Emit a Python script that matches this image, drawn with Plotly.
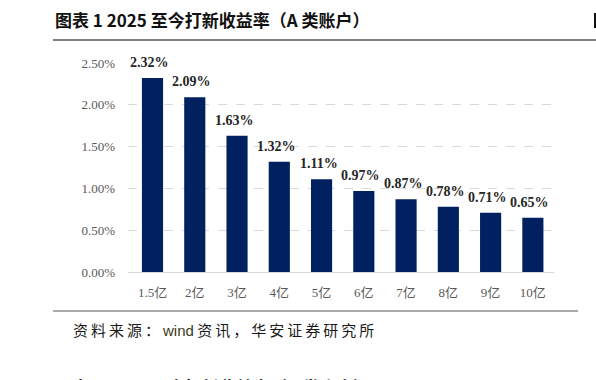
import plotly.graph_objects as go

categories = ["1.5亿", "2亿", "3亿", "4亿", "5亿", "6亿", "7亿", "8亿", "9亿", "10亿"]
returns = [2.32, 2.09, 1.63, 1.32, 1.11, 0.97, 0.87, 0.78, 0.71, 0.65]
y_ticks = [0, 0.5, 1.0, 1.5, 2.0, 2.5]
y_tick_labels = ["0.00%", "0.50%", "1.00%", "1.50%", "2.00%", "2.50%"]
title_text = "图表 1 2025 至今打新收益率（A 类账户）"
next_title_text = "图表 2 2025 至今打新收益率（B 类账户）"
source_text = ("<span style='letter-spacing:3px'>资料来源：</span>"
               "<span style='color:#3d3a1f;font-family:Liberation Sans'>wind</span> "
               "<span style='letter-spacing:3px'>资讯，华安证券研究所</span>")

W, H = 596, 380
L, R, T, B = 128, 554, 63, 272


def px(x):
    return (x - L) / (R - L)


def py(y):
    return (B - y) / (B - T)


fig = go.Figure()
fig.add_trace(go.Bar(
    x=categories, y=returns,
    marker=dict(color="#002060", line=dict(width=0)),
    hoverinfo="skip",
))

annotations = []
for c, v in zip(categories, returns):
    annotations.append(dict(
        x=c, y=v, xref="x", yref="y", text=f"<b>{v:.2f}%</b>",
        showarrow=False, yanchor="bottom", yshift=6, xshift=-3,
        font=dict(family="Liberation Serif", size=14, color="#262626"),
    ))

annotations.append(dict(
    x=px(53), y=py(20), xref="paper", yref="paper", text=f"<b>{title_text}</b>",
    showarrow=False, xanchor="left", yanchor="middle",
    font=dict(family="Noto Sans CJK SC", size=17, color="#111111"),
))
annotations.append(dict(
    x=px(71), y=py(329), xref="paper", yref="paper", text=source_text,
    showarrow=False, xanchor="left", yanchor="middle",
    font=dict(family="Noto Sans CJK SC", size=15, color="#1a1a1a"),
))
annotations.append(dict(
    x=px(53), y=py(372), xref="paper", yref="paper", text=f"<b>{next_title_text}</b>",
    showarrow=False, xanchor="left", yanchor="top",
    font=dict(family="Noto Sans CJK SC", size=17, color="#111111"),
))

shapes = [
    dict(type="line", xref="paper", yref="paper", x0=px(53), x1=px(596), y0=py(40), y1=py(40),
         line=dict(color="#595959", width=1.5)),
    dict(type="line", xref="paper", yref="paper", x0=px(53), x1=px(578), y0=py(311), y1=py(311),
         line=dict(color="#595959", width=1.2)),
    dict(type="rect", xref="paper", yref="paper", x0=px(594), x1=px(596), y0=py(13), y1=py(28),
         line=dict(width=0), fillcolor="#111111"),
]

fig.update_layout(
    width=W, height=H,
    margin=dict(l=L, r=W - R, t=T, b=H - B),
    paper_bgcolor="white", plot_bgcolor="white",
    bargap=0.5, showlegend=False,
    annotations=annotations, shapes=shapes,
    xaxis=dict(
        showgrid=False, showline=True, linecolor="#d9d9d9", linewidth=1,
        ticks="", ticklabelstandoff=8,
        tickfont=dict(family="Liberation Serif, Noto Sans CJK SC", size=13, color="#595959"),
    ),
    yaxis=dict(
        range=[0, 2.5], tickvals=y_ticks, ticktext=y_tick_labels,
        showgrid=True, gridcolor="#d9d9d9", griddash="dash", gridwidth=1,
        zeroline=False, showline=False, ticks="", ticklabelstandoff=12,
        tickfont=dict(family="Liberation Serif", size=13, color="#595959"),
    ),
)

fig.write_html("out.html", config={"displayModeBar": False},
               post_script="document.body.style.margin='0';")
